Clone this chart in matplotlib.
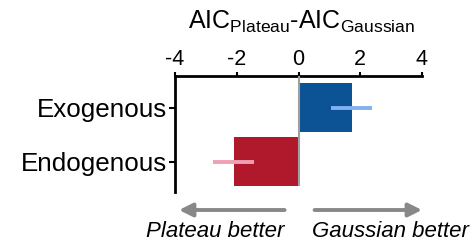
import matplotlib
matplotlib.use("Agg")
import matplotlib.pyplot as plt
import matplotlib.transforms as mtransforms

# ---- data ----
categories = ["Exogenous", "Endogenous"]
values = [1.72, -2.1]
errors = [0.67, 0.67]
bar_colors = ["#0b5394", "#b0192c"]
err_colors = ["#7fb2ee", "#f0a0b2"]
xticks = [-4, -2, 0, 2, 4]
xtick_labels = ["-4", "-2", "0", "2", "4"]
title = r"AIC$_{\mathrm{Plateau}}$-AIC$_{\mathrm{Gaussian}}$"
left_note = "Plateau better"
right_note = "Gaussian better"

plt.rcParams["font.family"] = ["Liberation Sans", "DejaVu Sans"]
plt.rcParams["mathtext.fontset"] = "custom"
plt.rcParams["mathtext.rm"] = "Liberation Sans"
plt.rcParams["mathtext.it"] = "Liberation Sans:italic"

W, H = 471, 244
fig = plt.figure(figsize=(W / 100, H / 100), dpi=100)
ax_l, ax_r, ax_t, ax_b = 175, 422, 76, 192
ax = fig.add_axes([ax_l / W, 1 - ax_b / H, (ax_r - ax_l) / W, (ax_b - ax_t) / H])

ypos = list(range(len(categories)))
ax.barh(ypos, values, height=0.9, color=bar_colors, zorder=2)
for y, v, e, c in zip(ypos, values, errors, err_colors):
    ax.plot([v - e, v + e], [y, y], color=c, lw=2.8, solid_capstyle="butt", zorder=3)

ax.set_xlim(-4, 4)
ax.set_ylim(1.561, -0.587)
ax.vlines(0, -0.587, 1.45, color="#a0a0a0", lw=1.5, zorder=4)

ax.xaxis.tick_top()
ax.set_xticks(xticks)
ax.set_xticklabels(xtick_labels, fontsize=15.5)
ax.set_yticks(ypos)
ax.set_yticklabels(categories, fontsize=18.7)
ax.tick_params(axis="x", direction="out", length=3, width=1.5, pad=1.5)
ax.tick_params(axis="y", direction="out", length=4, width=1.5, pad=2)
for s in ["right", "bottom"]:
    ax.spines[s].set_visible(False)
for s in ["top", "left"]:
    ax.spines[s].set_linewidth(2)
    ax.spines[s].set_color("black")

fig.text(302 / W, 1 - 29 / H, title, fontsize=18, ha="center", va="baseline")

trans = mtransforms.blended_transform_factory(ax.transData, ax.transAxes)
arrow_y = (ax_b - 210) / (ax_b - ax_t)
text_y = (ax_b - 237) / (ax_b - ax_t)
arrow_kw = dict(arrowstyle="-|>,head_length=0.8,head_width=0.4", color="#888888", lw=2.8,
                shrinkA=0, shrinkB=0)
ax.annotate("", xy=(-3.87, arrow_y), xytext=(-0.45, arrow_y), xycoords=trans,
            textcoords=trans, arrowprops=arrow_kw, annotation_clip=False)
ax.annotate("", xy=(4.0, arrow_y), xytext=(0.52, arrow_y), xycoords=trans,
            textcoords=trans, arrowprops=arrow_kw, annotation_clip=False)
ax.text(-2.7, text_y, left_note, transform=trans, fontsize=16, style="italic",
        ha="center", va="baseline")
ax.text(2.98, text_y, right_note, transform=trans, fontsize=16, style="italic",
        ha="center", va="baseline")

fig.savefig("out.png", dpi=100)
